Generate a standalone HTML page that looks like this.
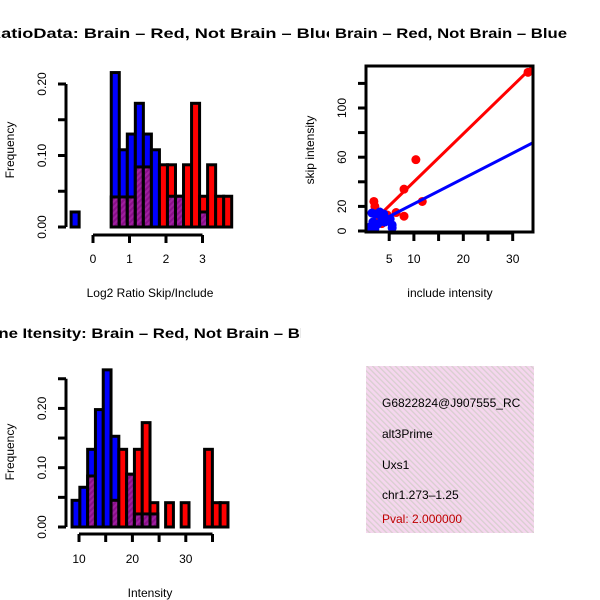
<!DOCTYPE html>
<html><head><meta charset="utf-8"><style>
body{margin:0;background:#fff}
svg{display:block;font-family:"Liberation Sans",Helvetica,sans-serif}
</style></head><body>
<svg id="c" width="600" height="600" viewBox="0 0 600 600">
<defs>
<pattern id="hatch" width="4" height="4" patternUnits="userSpaceOnUse" patternTransform="rotate(45)">
<rect width="4" height="4" fill="#a020a0"/><rect width="2" height="4" fill="#8a108a"/></pattern>
<pattern id="pink" width="4" height="4" patternUnits="userSpaceOnUse" patternTransform="rotate(-45)">
<rect width="4" height="4" fill="#f5d6ee"/><rect width="1.3" height="4" fill="#d8cfcf"/></pattern>
<clipPath id="box2"><rect x="366" y="66" width="167" height="166"/></clipPath>
<clipPath id="infoclip"><rect x="366" y="366" width="168" height="167"/></clipPath>
<clipPath id="t1clip"><rect x="0" y="0" width="329" height="60"/></clipPath>
<clipPath id="t3clip"><rect x="0" y="300" width="301" height="60"/></clipPath>
</defs>
</svg>
<script>
// Panel 1: log2 ratio histogram
const ratioBinStart = -0.6, ratioBinWidth = 0.22;
const ratioBlue = [0.021,0,0,0,0,0.216,0.108,0.13,0.173,0.13,0.108,0,0.043,0.043,0,0,0.021,0,0,0];
const ratioRed  = [0,0,0,0,0,0.042,0.042,0.042,0.084,0.084,0,0.087,0.087,0.043,0.087,0.173,0.043,0.087,0.043,0.043];
const ratioXTicks = [0,1,2,3];
const ratioYTicks = [0,0.05,0.1,0.15,0.2];
const ratioYLabels = ["0.00","","0.10","","0.20"];
// Panel 3: intensity histogram
const intBinStart = 8.7, intBinWidth = 1.46;
const intBlue = [0.045,0.067,0.131,0.198,0.265,0.153,0,0.089,0.022,0.022,0.022,0,0,0,0,0,0,0,0,0];
const intRed  = [0,0,0.086,0,0,0.045,0.131,0.089,0.131,0.176,0.041,0,0.041,0,0.041,0,0,0.131,0.041,0.041];
const intXTicks = [10,15,20,25,30,35];
const intXLabels = ["10","","20","","30",""];
const intYTicks = [0,0.05,0.1,0.15,0.2,0.25];
const intYLabels = ["0.00","","0.10","","0.20",""];
// Panel 2: scatter
const redInclude = [33.1,1.9,2.1,8,10.4,11.7,8,6.4,4.6,2.5,3.5];
const redSkip    = [129,24,20,34,58,24,12,15,13,10,6];
const blueInclude = [1.5,2.3,3.1,3.9,1.7,2.7,4.1,5.2,5.6,1.1,2.1,5.6,3.5];
const blueSkip    = [14.6,13.8,15.4,13.8,7.3,5.7,7.3,9.8,4.9,3.3,1.6,2.4,10.6];
const redFit = [1, 3.9];   // intercept, slope
const blueFit = [1.5, 2.06];
const scXTicks = [5,10,15,20,25,30];
const scXLabels = ["5","10","","20","","30"];
const scYTicks = [0,20,40,60,80,100,120];
const scYLabels = ["0","20","","60","","100",""];

const svg = document.getElementById('c');
const NS = 'http://www.w3.org/2000/svg';
function mk(tag, attrs, parent){const e=document.createElementNS(NS,tag);for(const k in attrs)e.setAttribute(k,attrs[k]);(parent||svg).appendChild(e);return e;}
function txt(s, attrs){const e=mk('text',attrs);e.textContent=s;return e;}

function hist(name, start, w, blue, red, sx, sy, baseY){
  const g = mk('g',{});
  
  
  for(let i=0;i<blue.length;i++){
    const x0=sx(start+i*w), x1=sx(start+(i+1)*w);
    const b=blue[i], r=red[i], mx=Math.max(b,r), mn=Math.min(b,r);
    if(mx>0){
      const col = b>=r ? '#0000ff' : '#ff0000';
      const rc = mk('rect',{x:x0,y:sy(mx),width:x1-x0,height:baseY-sy(mx),fill:col,stroke:'#000','stroke-width':3},g);
      
      
    }
    if(mn>0){
      const rp = mk('rect',{x:x0,y:sy(mn),width:x1-x0,height:baseY-sy(mn),fill:'url(#hatch)',stroke:'#000','stroke-width':3},g);
      
      
    }
  }
}
function yaxis(name, x, ticks, labels, sy, labelX){
  const g=mk('g',{});
  
  
  mk('line',{x1:x,x2:x,y1:sy(ticks[0]),y2:sy(ticks[ticks.length-1]),stroke:'#000','stroke-width':3},g);
  ticks.forEach((t,i)=>{
    mk('line',{x1:x-8,x2:x,y1:sy(t),y2:sy(t),stroke:'#000','stroke-width':3},g);
    if(labels[i]){const e=mk('text',{x:labelX,y:sy(t),'font-size':12,'text-anchor':'middle',transform:`rotate(-90 ${labelX} ${sy(t)})`},g);e.textContent=labels[i];}
  });
}
function xaxis(name, y, ticks, labels, sx, labelY){
  const g=mk('g',{});
  
  
  mk('line',{x1:sx(ticks[0]),x2:sx(ticks[ticks.length-1]),y1:y,y2:y,stroke:'#000','stroke-width':3},g);
  ticks.forEach((t,i)=>{
    mk('line',{x1:sx(t),x2:sx(t),y1:y,y2:y+8,stroke:'#000','stroke-width':3},g);
    if(labels[i]){const e=mk('text',{x:sx(t),y:labelY,'font-size':12,'text-anchor':'middle'},g);e.textContent=labels[i];}
  });
}

// Panel 1
const p1x = v=>93+v*36.5, p1y = v=>227-v*715;
hist('ratio-hist', ratioBinStart, ratioBinWidth, ratioBlue, ratioRed, p1x, p1y, 227);
yaxis('ratio-y-axis', 66, ratioYTicks, ratioYLabels, p1y, 46);
xaxis('ratio-x-axis', 235, ratioXTicks, ratioXTicks.map(String), p1x, 263);
let t;
const tg1=mk('g',{'clip-path':'url(#t1clip)'});
t=mk('text',{x:-12,y:38,'font-size':14,'font-weight':'bold',textLength:348,lengthAdjust:'spacingAndGlyphs'},tg1);
t.textContent='RatioData: Brain – Red, Not Brain – Blue';

t=txt('Frequency',{x:14,y:150,'font-size':12,'text-anchor':'middle',transform:'rotate(-90 14 150)'});

t=txt('Log2 Ratio Skip/Include',{x:150,y:297,'font-size':12,'text-anchor':'middle'});


// Panel 3
const p3x = v=>79+(v-10)*5.34, p3y = v=>527-v*593;
hist('intensity-hist', intBinStart, intBinWidth, intBlue, intRed, p3x, p3y, 527);
yaxis('intensity-y-axis', 66, intYTicks, intYLabels, p3y, 46);
xaxis('intensity-x-axis', 534, intXTicks, intXLabels, p3x, 563);
const tg3=mk('g',{'clip-path':'url(#t3clip)'});
t=mk('text',{x:-24,y:338,'font-size':14,'font-weight':'bold',textLength:348,lengthAdjust:'spacingAndGlyphs'},tg3);
t.textContent='Gene Itensity: Brain – Red, Not Brain – Blue';

t=txt('Frequency',{x:14,y:452,'font-size':12,'text-anchor':'middle',transform:'rotate(-90 14 452)'});

t=txt('Intensity',{x:150,y:597,'font-size':12,'text-anchor':'middle'});


// Panel 2
const p2x = v=>364.5+v*4.94, p2y = v=>231-v*1.23;
const plotArea = mk('g',{'clip-path':'url(#box2)'});


function fitLine(fit,col,name){
  const l=mk('line',{x1:p2x(0),y1:p2y(fit[0]),x2:p2x(40),y2:p2y(fit[0]+fit[1]*40),stroke:col,'stroke-width':3},plotArea);
  
  
}
redInclude.forEach((x,i)=>{const c=mk('circle',{cx:p2x(x),cy:p2y(redSkip[i]),r:4.5,fill:'#ff0000'},plotArea);
  
  });
fitLine(redFit,'#ff0000','brain-fit-line');
blueInclude.forEach((x,i)=>{const c=mk('circle',{cx:p2x(x),cy:p2y(blueSkip[i]),r:4.5,fill:'#0000ff'},plotArea);
  
  });
fitLine(blueFit,'#0000ff','not-brain-fit-line');
const bx=mk('rect',{x:366,y:66,width:167,height:166,fill:'none',stroke:'#000','stroke-width':3});

yaxis('scatter-y-axis', 366, scYTicks, scYLabels, p2y, 346);
xaxis('scatter-x-axis', 233, scXTicks, scXLabels, p2x, 263);
t=txt('Brain – Red, Not Brain – Blue',{x:335,y:38,'font-size':14,'font-weight':'bold',textLength:232,lengthAdjust:'spacingAndGlyphs'});

t=txt('skip intensity',{x:314,y:150,'font-size':12,'text-anchor':'middle',transform:'rotate(-90 314 150)'});

t=txt('include intensity',{x:450,y:297,'font-size':12,'text-anchor':'middle'});


// Panel 4: info box
const ib=mk('rect',{x:366,y:366,width:168,height:167,fill:'url(#pink)'});

const infoLines=[['G6822824@J907555_RC',407,'#000','info-id'],['alt3Prime',438,'#000','info-type'],['Uxs1',469,'#000','info-gene'],['chr1.273–1.25',499,'#000','info-location'],['Pval: 2.000000',523,'#c00000','info-pval']];
const ig=mk('g',{'clip-path':'url(#infoclip)'});


infoLines.forEach(l=>{const e=mk('text',{x:382,y:l[1],'font-size':12,fill:l[2]},ig);e.textContent=l[0];
  
  });
</script>
</body></html>
